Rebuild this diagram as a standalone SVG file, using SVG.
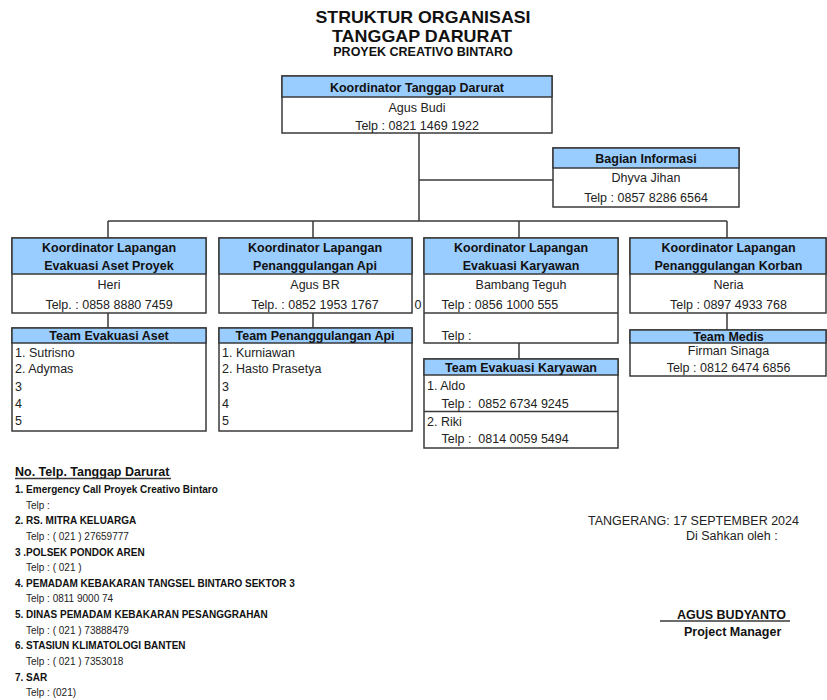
<svg xmlns="http://www.w3.org/2000/svg" width="827" height="700" viewBox="0 0 827 700">
<style>
.bg{fill:#fff}
.box{fill:#fff;stroke:#3a3a3a;stroke-width:1.5}
.hdr{fill:#99ccff;stroke:#3a3a3a;stroke-width:1.5}
.ln{fill:none;stroke:#3a3a3a;stroke-width:1.5}
text{font-family:"Liberation Sans",Arial,sans-serif;font-size:12.5px;fill:#222}
.b{font-weight:bold;fill:#111}
.c{text-anchor:middle}
.s{font-size:10px}
.title{font-size:17px;font-weight:bold;fill:#111;text-anchor:middle}
</style>
<rect class="bg" x="0" y="0" width="827" height="700"/>

<g id="title">
<text class="title" x="423" y="22.5" textLength="215" lengthAdjust="spacingAndGlyphs">STRUKTUR ORGANISASI</text>
<text class="title" x="422" y="41.5" textLength="180" lengthAdjust="spacingAndGlyphs">TANGGAP DARURAT</text>
<text class="b c" x="423" y="55.5">PROYEK CREATIVO BINTARO</text>
</g>

<g id="connectors">
<path class="ln" d="M419,133 V221 M419,180 H553 M108,221 H727 M108,221 V238 M313,221 V238 M519,221 V238 M727,221 V238"/>
<path class="ln" d="M108,313 V328 M313,313 V328 M519,343 V359 M727,313 V330"/>
</g>

<g id="koordinator-tanggap-darurat">
<rect class="box" x="282" y="76" width="270" height="57"/>
<rect class="hdr" x="282" y="76" width="270" height="21"/>
<text class="b c" x="417" y="91.5">Koordinator Tanggap Darurat</text>
<text class="c" x="417" y="111.5">Agus Budi</text>
<text class="c" x="417" y="129.5">Telp : 0821 1469 1922</text>
</g>

<g id="bagian-informasi">
<rect class="box" x="553" y="148" width="186" height="59"/>
<rect class="hdr" x="553" y="148" width="186" height="20"/>
<text class="b c" x="646" y="162.5">Bagian Informasi</text>
<text class="c" x="646" y="182">Dhyva Jihan</text>
<text class="c" x="646" y="201.5">Telp : 0857 8286 6564</text>
</g>

<g id="kl-evakuasi-aset">
<rect class="box" x="12" y="238" width="194" height="75"/>
<rect class="hdr" x="12" y="238" width="194" height="36"/>
<text class="b c" x="109" y="251.5">Koordinator Lapangan</text>
<text class="b c" x="109" y="269.5">Evakuasi Aset Proyek</text>
<text class="c" x="109" y="289">Heri</text>
<text class="c" x="109" y="308.5">Telp. : 0858 8880 7459</text>
</g>

<g id="kl-penanggulangan-api">
<rect class="box" x="219" y="238" width="193" height="75"/>
<rect class="hdr" x="219" y="238" width="193" height="36"/>
<text class="b c" x="315" y="251.5">Koordinator Lapangan</text>
<text class="b c" x="315" y="269.5">Penanggulangan Api</text>
<text class="c" x="315" y="289">Agus BR</text>
<text class="c" x="315" y="308.5">Telp. : 0852 1953 1767</text>
</g>

<text x="414.5" y="308.5">0</text>

<g id="kl-evakuasi-karyawan">
<rect class="box" x="424" y="238" width="194" height="105"/>
<rect class="hdr" x="424" y="238" width="194" height="36"/>
<path class="ln" d="M424,313 H618"/>
<text class="b c" x="521" y="251.5">Koordinator Lapangan</text>
<text class="b c" x="521" y="269.5">Evakuasi Karyawan</text>
<text class="c" x="521" y="289">Bambang Teguh</text>
<text x="441.5" y="308.5">Telp : 0856 1000 555</text>
<text x="441.5" y="339.5">Telp :</text>
</g>

<g id="kl-penanggulangan-korban">
<rect class="box" x="630" y="238" width="196" height="75"/>
<rect class="hdr" x="630" y="238" width="196" height="36"/>
<text class="b c" x="728.5" y="251.5">Koordinator Lapangan</text>
<text class="b c" x="728.5" y="269.5">Penanggulangan Korban</text>
<text class="c" x="728.5" y="289">Neria</text>
<text class="c" x="728.5" y="308.5">Telp : 0897 4933 768</text>
</g>

<g id="team-evakuasi-aset">
<rect class="box" x="12" y="328" width="194" height="103"/>
<rect class="hdr" x="12" y="328" width="194" height="15"/>
<text class="b c" x="109" y="340">Team Evakuasi Aset</text>
<text x="15" y="356.5">1. Sutrisno</text>
<text x="15" y="373">2. Adymas</text>
<text x="15" y="390.5">3</text>
<text x="15" y="407.5">4</text>
<text x="15" y="424.5">5</text>
</g>

<g id="team-penanggulangan-api">
<rect class="box" x="219" y="328" width="193" height="103"/>
<rect class="hdr" x="219" y="328" width="193" height="15"/>
<text class="b c" x="315" y="340">Team Penanggulangan Api</text>
<text x="222" y="356.5">1. Kurniawan</text>
<text x="222" y="373">2. Hasto Prasetya</text>
<text x="222" y="390.5">3</text>
<text x="222" y="407.5">4</text>
<text x="222" y="424.5">5</text>
</g>

<g id="team-evakuasi-karyawan">
<rect class="box" x="424" y="359" width="194" height="89"/>
<rect class="hdr" x="424" y="359" width="194" height="16"/>
<path class="ln" d="M424,411.5 H618"/>
<text class="b c" x="521" y="372">Team Evakuasi Karyawan</text>
<text x="427" y="389.5">1. Aldo</text>
<text x="441.5" y="407.5" xml:space="preserve">Telp :  0852 6734 9245</text>
<text x="427" y="426">2. Riki</text>
<text x="441.5" y="443" xml:space="preserve">Telp :  0814 0059 5494</text>
</g>

<g id="team-medis">
<rect class="box" x="630" y="330" width="196" height="46"/>
<rect class="hdr" x="630" y="330" width="196" height="13"/>
<text class="b c" x="728.5" y="341">Team Medis</text>
<text class="c" x="728.5" y="355">Firman Sinaga</text>
<text class="c" x="728.5" y="371.5">Telp : 0812 6474 6856</text>
</g>

<g id="nomor-telepon">
<text class="b" x="15" y="476">No. Telp. Tanggap Darurat</text>
<line class="ln" x1="15" y1="478.5" x2="171" y2="478.5" stroke-width="1.2"/>
<text class="b s" x="15" y="493">1. Emergency Call Proyek Creativo Bintaro</text>
<text class="s" x="26" y="509">Telp :</text>
<text class="b s" x="15" y="524">2. RS. MITRA KELUARGA</text>
<text class="s" x="26" y="540">Telp : ( 021 ) 27659777</text>
<text class="b s" x="15" y="555.5">3 .POLSEK PONDOK AREN</text>
<text class="s" x="26" y="571">Telp : ( 021 )</text>
<text class="b s" x="15" y="586.5">4. PEMADAM KEBAKARAN TANGSEL BINTARO SEKTOR 3</text>
<text class="s" x="26" y="602">Telp : 0811 9000 74</text>
<text class="b s" x="15" y="618">5. DINAS PEMADAM KEBAKARAN PESANGGRAHAN</text>
<text class="s" x="26" y="634">Telp : ( 021 ) 73888479</text>
<text class="b s" x="15" y="649">6. STASIUN KLIMATOLOGI BANTEN</text>
<text class="s" x="26" y="665">Telp : ( 021 ) 7353018</text>
<text class="b s" x="15" y="680.5">7. SAR</text>
<text class="s" x="26" y="696">Telp : (021)</text>
</g>

<g id="pengesahan">
<text x="588" y="524.5">TANGERANG: 17 SEPTEMBER 2024</text>
<text x="686" y="539.5">Di Sahkan oleh :</text>
<text class="b" x="677" y="618.5">AGUS BUDYANTO</text>
<line class="ln" x1="660" y1="621" x2="790" y2="621" stroke-width="1.2"/>
<text class="b" x="684" y="635.5">Project Manager</text>
</g>
</svg>
